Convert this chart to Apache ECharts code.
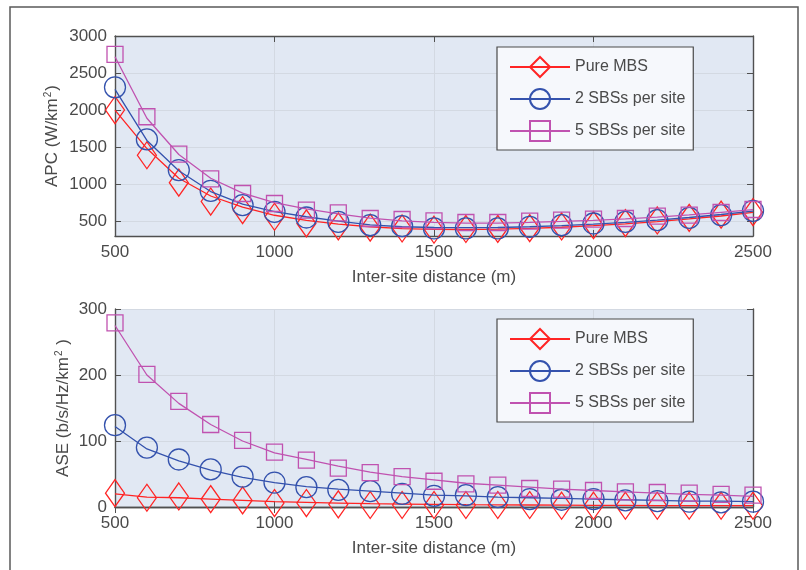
<!DOCTYPE html>
<html>
  <head>
    <meta charset="utf-8" />
    <title>APC / ASE vs inter-site distance</title>
    <script src="https://cdn.jsdelivr.net/npm/echarts@6/dist/echarts.min.js"></script>
  </head>
  <body style="margin:0">
    <div id="main" style="width: 806px;height:570px;"></div>
    <script type="text/javascript">
      // inter-site distance (m)
      var dist = [500, 600, 700, 800, 900, 1000, 1100, 1200, 1300, 1400, 1500,
                  1600, 1700, 1800, 1900, 2000, 2100, 2200, 2300, 2400, 2500];
      var names = ['Pure MBS', '2 SBSs per site', '5 SBSs per site'];

      // APC (W/km2): curve values and marker values
      var apcMbsLine = [2000, 1480, 1080, 840, 690, 580, 510, 460, 425, 400, 390, 388, 392, 402, 418, 440, 465, 495, 530, 570, 620];
      var apc2Line   = [2280, 1590, 1180, 900, 730, 630, 560, 500, 450, 425, 415, 412, 415, 425, 440, 460, 485, 515, 550, 590, 635];
      var apc5Line   = [2720, 1890, 1400, 1080, 880, 750, 665, 600, 540, 505, 485, 475, 475, 485, 497, 512, 530, 555, 585, 620, 655];
      var apcMbsPts  = [2000, 1390, 1020, 765, 650, 560, 470, 430, 413, 402, 385, 395, 396, 406, 429, 447, 474, 510, 545, 588, 622];
      var apc2Pts    = [2307, 1604, 1190, 910, 717, 627, 550, 491, 447, 433, 402, 402, 402, 424, 447, 469, 491, 514, 545, 582, 640];
      var apc5Pts    = [2753, 1910, 1405, 1072, 874, 739, 650, 612, 536, 523, 504, 482, 482, 500, 514, 527, 536, 568, 581, 617, 658];

      // ASE (b/s/Hz/km2): curve values and marker values
      var aseMbsLine = [20, 15, 14, 12, 10, 8, 7, 6, 5, 4.5, 4, 3.5, 3.2, 3, 2.8, 2.6, 2.4, 2.2, 2.1, 2, 2];
      var ase2Line   = [122, 88, 70, 56, 45, 37, 31, 27, 24, 21, 18, 17, 15, 14, 13, 12, 11, 10, 9, 9, 8];
      var ase5Line   = [275, 200, 157, 125, 100, 82, 72, 62, 53, 46, 41, 36, 33, 30, 27, 25, 23, 21, 19, 18, 16];
      var aseMbsPts  = [21, 14, 16, 12, 10, 6, 6, 4, 3, 3, 3, 3, 3, 3, 2, 2, 2, 2, 2, 2, 2];
      var ase2Pts    = [124, 90, 72, 57, 46, 37, 30, 26, 24, 20, 17, 18, 15, 12, 11, 12, 10, 9, 8, 7, 8];
      var ase5Pts    = [279, 201, 160, 125, 101, 83, 71, 59, 52, 46, 39, 35, 33, 28, 27, 25, 23, 22, 21, 19, 18];

      var apcTicks = [500, 1000, 1500, 2000, 2500, 3000];

      var colors = ['#ff2424', '#3452ad', '#c052b0'];
      var symbols = ['diamond', 'circle', 'rect'];
      var symSizes = [[19, 27], 21, 16];
      var txt = '#4a4a4a';
      var font = '"Liberation Sans", sans-serif';

      function pairs(ys) {
        var out = [];
        for (var i = 0; i < dist.length; i++) out.push([dist[i], ys[i]]);
        return out;
      }
      function plain(v) { return String(v); }

      var series = [];
      function addSet(gi, lines, pts) {
        for (var k = 0; k < 3; k++) {
          series.push({
            type: 'line', name: names[k],
            xAxisIndex: gi * 2, yAxisIndex: gi * 2,
            data: pairs(lines[k]),
            symbol: symbols[k], symbolSize: symSizes[k], showSymbol: false,
            itemStyle: {color: 'rgba(0,0,0,0)', borderColor: colors[k], borderWidth: 1.3},
            lineStyle: {color: colors[k], width: 1.3},
            emphasis: {disabled: true},
            z: 2 + k
          });
          series.push({
            type: 'scatter', name: names[k],
            xAxisIndex: gi * 2, yAxisIndex: gi * 2,
            data: pairs(pts[k]),
            symbol: symbols[k], symbolSize: symSizes[k],
            itemStyle: {color: 'rgba(0,0,0,0)', borderColor: colors[k], borderWidth: 1.3, opacity: 1},
            clip: false,
            emphasis: {disabled: true},
            z: 2 + k
          });
        }
      }
      addSet(0, [apcMbsLine, apc2Line, apc5Line], [apcMbsPts, apc2Pts, apc5Pts]);
      addSet(1, [aseMbsLine, ase2Line, ase5Line], [aseMbsPts, ase2Pts, ase5Pts]);

      var axLine = {show: true, lineStyle: {color: '#505050', width: 1.4}};
      var tick = {inside: true, length: 6, lineStyle: {color: '#505050'}};
      var gridLine = {show: true, lineStyle: {color: '#d3d9e2', width: 1}};
      var nameStyle = {color: txt, fontFamily: font, fontSize: 17,
        rich: {sup: {fontSize: 10, color: txt, fontFamily: font, verticalAlign: 'top', padding: [0, 1, 9, 1]}}};

      function xAxes(gi) {
        return [{
          gridIndex: gi, type: 'value', min: 500, max: 2500, interval: 500,
          axisLine: axLine, axisTick: tick,
          axisLabel: {color: txt, fontFamily: font, fontSize: 17, margin: 8, formatter: plain},
          splitLine: gridLine,
          name: 'Inter-site distance (m)', nameLocation: 'middle', nameGap: 33, nameMoveOverlap: false,
          nameTextStyle: {color: txt, fontFamily: font, fontSize: 17}
        }, {
          gridIndex: gi, type: 'value', min: 500, max: 2500, interval: 500, position: 'top',
          axisLine: axLine, axisTick: tick,
          axisLabel: {show: false}, splitLine: {show: false}
        }];
      }

      var xAxis = xAxes(0).concat(xAxes(1));
      var yAxis = [{
        gridIndex: 0, type: 'value', min: 300, max: 3000,
        axisLine: axLine,
        axisTick: Object.assign({customValues: apcTicks}, tick),
        axisLabel: {color: txt, fontFamily: font, fontSize: 17, margin: 8, customValues: apcTicks, formatter: plain},
        splitLine: gridLine,
        name: 'APC (W/km{sup|2})', nameLocation: 'middle', nameGap: 53, nameMoveOverlap: false,
        nameTextStyle: nameStyle
      }, {
        gridIndex: 0, type: 'value', min: 300, max: 3000, position: 'right',
        axisLine: axLine,
        axisTick: Object.assign({customValues: apcTicks}, tick),
        axisLabel: {show: false, customValues: apcTicks}, splitLine: {show: false}
      }, {
        gridIndex: 1, type: 'value', min: 0, max: 300, interval: 100,
        axisLine: axLine, axisTick: tick,
        axisLabel: {color: txt, fontFamily: font, fontSize: 17, margin: 8, formatter: plain},
        splitLine: gridLine,
        name: 'ASE (b/s/Hz/km{sup|2} )', nameLocation: 'middle', nameGap: 42, nameMoveOverlap: false,
        nameTextStyle: nameStyle
      }, {
        gridIndex: 1, type: 'value', min: 0, max: 300, interval: 100, position: 'right',
        axisLine: axLine, axisTick: tick,
        axisLabel: {show: false}, splitLine: {show: false}
      }];

      function legendAt(top) {
        return {
          orient: 'vertical', left: 497, top: top,
          data: names,
          itemWidth: 60, itemHeight: 25, itemGap: 10,
          padding: [9, 8, 8, 12],
          backgroundColor: '#f6f8fc', borderColor: '#4a4a4a', borderWidth: 1.2,
          textStyle: {color: txt, fontFamily: font, fontSize: 16},
          selectedMode: false
        };
      }

      var myChart = echarts.init(document.getElementById('main'));
      var option = {
        animation: false,
        backgroundColor: '#ffffff',
        graphic: [{
          type: 'rect', shape: {x: 10, y: 7, width: 788, height: 620},
          style: {fill: 'none', stroke: '#5a5a5a', lineWidth: 1.5}, silent: true
        }],
        grid: [
          {left: 115, top: 36, width: 638, height: 200, show: true, backgroundColor: '#e1e8f3', borderWidth: 0},
          {left: 115, top: 309, width: 638, height: 198, show: true, backgroundColor: '#e1e8f3', borderWidth: 0}
        ],
        legend: [legendAt(47), legendAt(319)],
        xAxis: xAxis,
        yAxis: yAxis,
        series: series
      };
      myChart.setOption(option);
    </script>
  </body>
</html>
